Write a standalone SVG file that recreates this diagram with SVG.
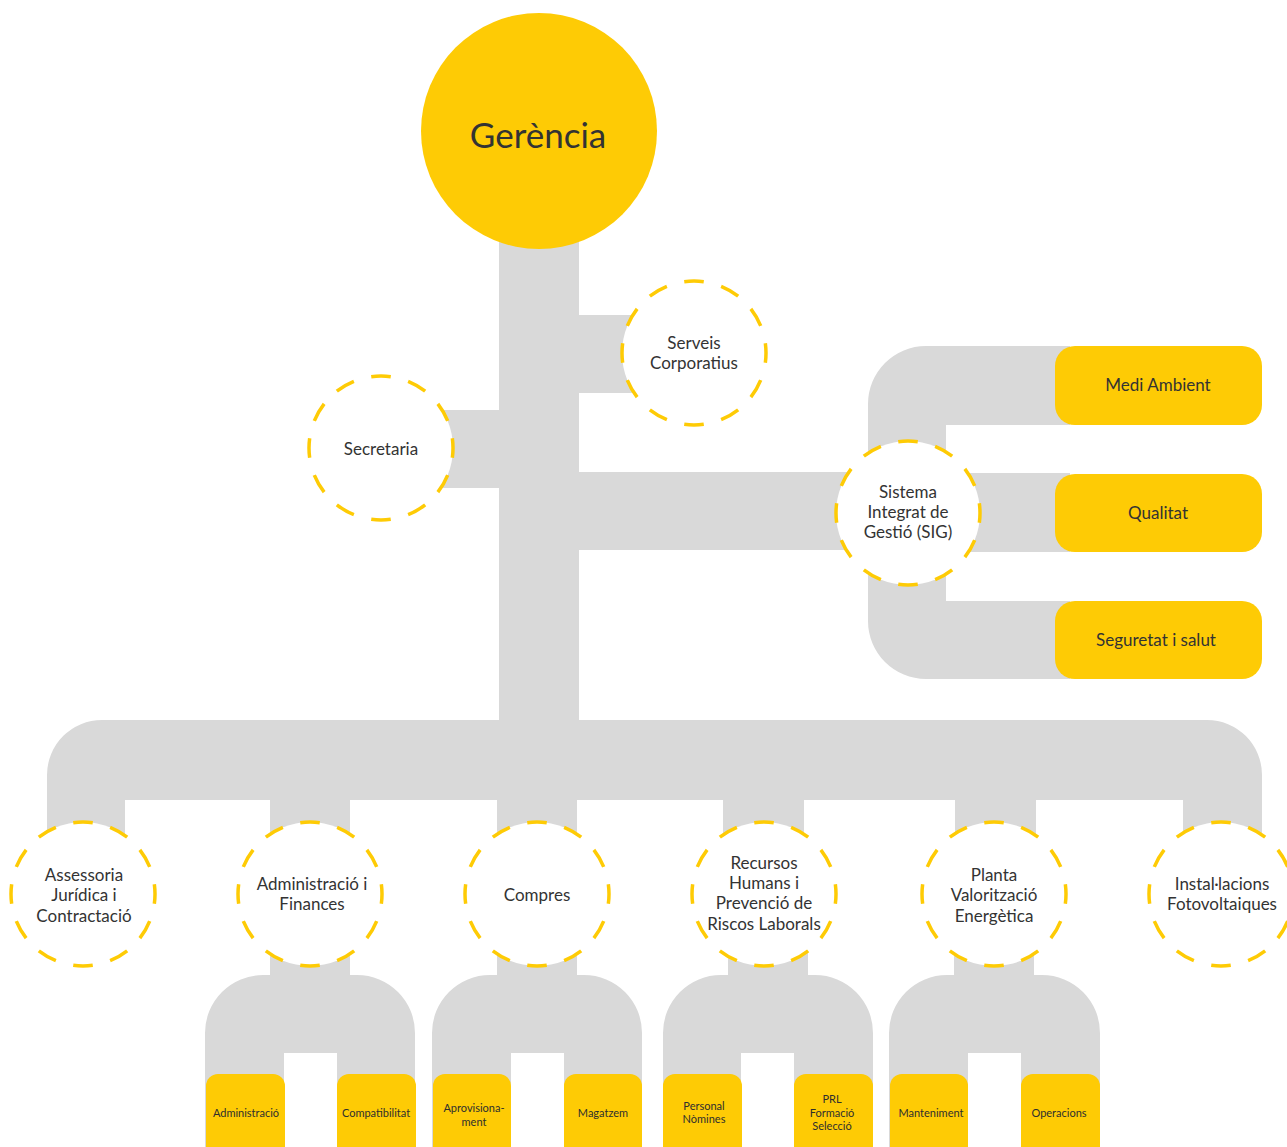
<svg xmlns="http://www.w3.org/2000/svg" width="1287" height="1147" viewBox="0 0 1287 1147">
  <style>
    .bar { fill: #d9d9d9; }
    .hub { fill: #fecb05; }
    .unit { fill: #ffffff; stroke: #fecb05; stroke-width: 3.5; stroke-dasharray: 15.7 14.3; stroke-dashoffset: 7.85; }
    .box { fill: #fecb05; }
    text { font-family: Lato, "Liberation Sans", sans-serif; fill: #333333; text-anchor: middle; }
    .t-hub { font-size: 35px; }
    .t-unit { font-size: 17px; }
    .t-box { font-size: 17px; }
    .t-small { font-size: 11px; fill: #2e2e2e; }
  </style>

  <!-- connectors: grey ducts drawn beneath all nodes -->
  <g id="connectors">
    <!-- main trunk -->
    <rect class="bar" x="499" y="200" width="80" height="530"/>
    <!-- side branches -->
    <rect class="bar" x="579" y="315" width="80" height="78"/>
    <rect class="bar" x="420" y="410" width="79" height="78"/>
    <rect class="bar" x="579" y="472" width="300" height="78"/>
    <!-- SIG comb -->
    <path class="bar" d="M1070 346 H926 A58 58 0 0 0 868 404 V621 A58 58 0 0 0 926 679 H1070 V601 H946 V552 H1070 V473 H946 V425 H1070 Z"/>
    <!-- bottom bus -->
    <path class="bar" d="M47 850 V775 A55 55 0 0 1 102 720 H1207 A55 55 0 0 1 1262 775 V850 H1183 V800 H125 V850 Z"/>
    <rect class="bar" x="270" y="795" width="80" height="50"/>
    <rect class="bar" x="497" y="795" width="80" height="50"/>
    <rect class="bar" x="723" y="795" width="81" height="50"/>
    <rect class="bar" x="955" y="795" width="81" height="50"/>
    <!-- lower arches -->
    <rect class="bar" x="270" y="940" width="80" height="40"/>
    <path class="bar" d="M205 1147 V1033 A58 58 0 0 1 263 975 H357 A58 58 0 0 1 415 1033 V1147 H337 V1053 H284 V1147 Z"/>
    <rect class="bar" x="497" y="940" width="80" height="40"/>
    <path class="bar" d="M432 1147 V1033 A58 58 0 0 1 490 975 H584 A58 58 0 0 1 642 1033 V1147 H564 V1053 H511 V1147 Z"/>
    <rect class="bar" x="728" y="940" width="80" height="40"/>
    <path class="bar" d="M663 1147 V1033 A58 58 0 0 1 721 975 H815 A58 58 0 0 1 873 1033 V1147 H794 V1053 H741 V1147 Z"/>
    <rect class="bar" x="954" y="940" width="80" height="40"/>
    <path class="bar" d="M889 1147 V1033 A58 58 0 0 1 947 975 H1042 A58 58 0 0 1 1100 1033 V1147 H1021 V1053 H968 V1147 Z"/>
  </g>

  <g id="gerencia">
    <circle class="hub" cx="539" cy="131" r="118"/>
    <text class="t-hub" x="538" y="148">Gerència</text>
  </g>

  <g id="serveis-corporatius">
    <circle class="unit" cx="694" cy="353" r="72" pathLength="360"/>
    <text class="t-unit" x="694" y="349">Serveis</text>
    <text class="t-unit" x="694" y="369">Corporatius</text>
  </g>

  <g id="secretaria">
    <circle class="unit" cx="381" cy="448" r="72" pathLength="360"/>
    <text class="t-unit" x="381" y="455">Secretaria</text>
  </g>

  <g id="sig">
    <circle class="unit" cx="908" cy="513" r="72" pathLength="360"/>
    <text class="t-unit" x="908" y="498">Sistema</text>
    <text class="t-unit" x="908" y="518">Integrat de</text>
    <text class="t-unit" x="908" y="538">Gestió (SIG)</text>
  </g>

  <g id="medi-ambient">
    <rect class="box" x="1055" y="346" width="207" height="79" rx="20"/>
    <text class="t-box" x="1158" y="391">Medi Ambient</text>
  </g>
  <g id="qualitat">
    <rect class="box" x="1055" y="474" width="207" height="78" rx="20"/>
    <text class="t-box" x="1158" y="519">Qualitat</text>
  </g>
  <g id="seguretat">
    <rect class="box" x="1055" y="601" width="207" height="78" rx="20"/>
    <text class="t-box" x="1156" y="646">Seguretat i salut</text>
  </g>

  <g id="assessoria">
    <circle class="unit" cx="83" cy="894" r="72" pathLength="360"/>
    <text class="t-unit" x="84" y="881">Assessoria</text>
    <text class="t-unit" x="84" y="901">Jurídica i</text>
    <text class="t-unit" x="84" y="922">Contractació</text>
  </g>

  <g id="administracio-finances">
    <circle class="unit" cx="310" cy="894" r="72" pathLength="360"/>
    <text class="t-unit" x="312" y="890">Administració i</text>
    <text class="t-unit" x="312" y="910">Finances</text>
  </g>

  <g id="compres">
    <circle class="unit" cx="537" cy="894" r="72" pathLength="360"/>
    <text class="t-unit" x="537" y="901">Compres</text>
  </g>

  <g id="recursos-humans">
    <circle class="unit" cx="764" cy="894" r="72" pathLength="360"/>
    <text class="t-unit" x="764" y="869">Recursos</text>
    <text class="t-unit" x="764" y="889">Humans i</text>
    <text class="t-unit" x="764" y="909">Prevenció de</text>
    <text class="t-unit" x="764" y="930">Riscos Laborals</text>
  </g>

  <g id="planta">
    <circle class="unit" cx="994" cy="894" r="72" pathLength="360"/>
    <text class="t-unit" x="994" y="881">Planta</text>
    <text class="t-unit" x="994" y="901">Valorització</text>
    <text class="t-unit" x="994" y="922">Energètica</text>
  </g>

  <g id="fotovoltaiques">
    <circle class="unit" cx="1221" cy="894" r="72" pathLength="360"/>
    <text class="t-unit" x="1222" y="890">Instal·lacions</text>
    <text class="t-unit" x="1222" y="910">Fotovoltaiques</text>
  </g>

  <!-- leaf boxes -->
  <g id="administracio">
    <rect class="box" x="206" y="1074" width="79" height="90" rx="12"/>
    <text class="t-small" x="246" y="1117">Administració</text>
  </g>
  <g id="compatibilitat">
    <rect class="box" x="337" y="1074" width="79" height="90" rx="12"/>
    <text class="t-small" x="376" y="1117">Compatibilitat</text>
  </g>
  <g id="aprovisionament">
    <rect class="box" x="433" y="1074" width="78" height="90" rx="12"/>
    <text class="t-small" x="474" y="1112">Aprovisiona-</text>
    <text class="t-small" x="474" y="1126">ment</text>
  </g>
  <g id="magatzem">
    <rect class="box" x="564" y="1074" width="78" height="90" rx="12"/>
    <text class="t-small" x="603" y="1117">Magatzem</text>
  </g>
  <g id="personal">
    <rect class="box" x="663" y="1074" width="79" height="90" rx="12"/>
    <text class="t-small" x="704" y="1110">Personal</text>
    <text class="t-small" x="704" y="1123">Nòmines</text>
  </g>
  <g id="prl">
    <rect class="box" x="794" y="1074" width="79" height="90" rx="12"/>
    <text class="t-small" x="832" y="1103">PRL</text>
    <text class="t-small" x="832" y="1117">Formació</text>
    <text class="t-small" x="832" y="1130">Selecció</text>
  </g>
  <g id="manteniment">
    <rect class="box" x="890" y="1074" width="78" height="90" rx="12"/>
    <text class="t-small" x="931" y="1117">Manteniment</text>
  </g>
  <g id="operacions">
    <rect class="box" x="1021" y="1074" width="79" height="90" rx="12"/>
    <text class="t-small" x="1059" y="1117">Operacions</text>
  </g>
</svg>
